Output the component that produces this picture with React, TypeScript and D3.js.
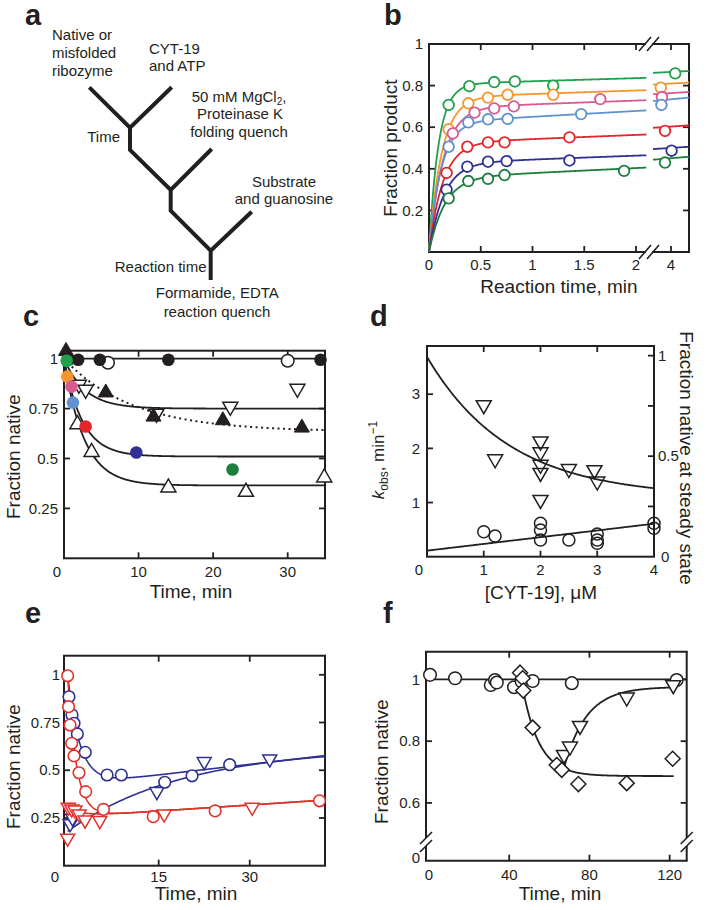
import React from "react";
import * as d3 from "d3";

const FONT = "Arial, 'Liberation Sans', Helvetica, sans-serif";
const INK = "#231f20";
const TICK = 6;
const FS_TICK = 15;
const FS_AX = 19;

// ---------------- Panel b ----------------
const bColors = ["#22a04b", "#f5962f", "#d75b8e", "#5e92d2", "#e4262c", "#2e3192", "#1c7d3f"];
const bTimes = [
  [0.19, 0.39, 0.63, 0.83, 1.2, 4.07],
  [0.19, 0.38, 0.57, 0.76, 1.2, 3.83],
  [0.23, 0.44, 0.63, 0.82, 1.655, 3.85],
  [0.19, 0.38, 0.57, 0.76, 1.47, 3.84],
  [0.17, 0.37, 0.57, 0.73, 1.357, 3.9],
  [0.17, 0.37, 0.57, 0.75, 1.357, 4.01],
  [0.19, 0.38, 0.57, 0.73, 1.885, 3.9],
];
const bValues = [
  [0.707, 0.797, 0.817, 0.82, 0.8, 0.859],
  [0.59, 0.715, 0.742, 0.756, 0.756, 0.79],
  [0.57, 0.67, 0.69, 0.7, 0.735, 0.745],
  [0.506, 0.623, 0.638, 0.64, 0.663, 0.707],
  [0.38, 0.506, 0.527, 0.527, 0.551, 0.582],
  [0.3, 0.41, 0.434, 0.437, 0.44, 0.487],
  [0.258, 0.341, 0.352, 0.37, 0.39, 0.43],
];
const bFitAmp = [0.806, 0.743, 0.692, 0.622, 0.523, 0.426, 0.356];
const bFitRate = [11, 8.2, 7.4, 8.6, 7.5, 7, 6.6];
const bFitSlope = [0.0149, 0.0167, 0.018, 0.028, 0.02, 0.0186, 0.0237];
const bYTicks = [0.2, 0.4, 0.6, 0.8, 1];
const bXTicks1 = [0.5, 1, 1.5, 2];
const bXTicks2 = [4];

// ---------------- Panel c ----------------
const cFilledCircT = [0.6, 1.9, 4.8, 14, 34.4];
const cFilledCircV = [0.995, 0.995, 0.995, 0.995, 0.995];
const cOpenCircT = [5.9, 30];
const cOpenCircV = [0.98, 0.99];
const cFilledUpT = [0.27, 5.6, 12, 21.3, 31.9];
const cFilledUpV = [1.038, 0.83, 0.709, 0.691, 0.654];
const cOpenDownT = [2.0, 2.9, 12.4, 22.3, 31.3];
const cOpenDownV = [0.87, 0.845, 0.725, 0.76, 0.85];
const cOpenUpT = [1.8, 3.7, 14, 24.4, 34.9];
const cOpenUpV = [0.671, 0.532, 0.354, 0.332, 0.404];
const cColorT = [0.36, 0.44, 1.0, 1.2, 2.9, 9.7, 22.6];
const cColorV = [0.99, 0.91, 0.86, 0.78, 0.66, 0.53, 0.445];
// fits: plateau + amp*exp(-k t)
const cFitPlateau = [0.635, 0.75, 0.51, 0.365];
const cFitAmp = [0.365, 0.25, 0.49, 0.635];
const cFitRate = [0.11, 0.35, 0.41, 0.37];
const cFitDotted = [true, false, false, false];
const cYTicks = [0.25, 0.5, 0.75, 1];
const cXTicks = [10, 20, 30];

// ---------------- Panel d ----------------
const dTriX = [1, 1.2, 2, 2, 2, 2, 2, 2.5, 2.95, 3];
const dTriK = [2.8, 1.8, 2.13, 1.93, 1.7, 1.55, 1.05, 1.62, 1.6, 1.39];
const dCircX = [1.0, 1.2, 2, 2, 2, 2.5, 3, 3, 3, 4, 4];
const dCircF = [0.124, 0.103, 0.166, 0.133, 0.083, 0.083, 0.113, 0.083, 0.067, 0.166, 0.141];
const dKFit = { base: 1.099, amp: 2.591, rate: 0.687 };
const dFracFit = { intercept: 0.03, slope: 0.0335 };
const dLeftTicks = [1, 2, 3];
const dRightTicks = [0.25, 0.5, 0.75, 1];
const dRightLabels = [0.5, 1];
const dXTicks = [1, 2, 3];
const dXLabels = [1, 2, 3, 4];

// ---------------- Panel e ----------------
const eBlueCircT = [0.22, 0.72, 1.05, 1.6, 2.9, 6.5, 8.84, 16.0, 20.5, 26.7];
const eBlueCircV = [0.885, 0.79, 0.746, 0.69, 0.594, 0.475, 0.475, 0.437, 0.471, 0.529];
const eBlueTriT = [0.4, 0.8, 14.7, 22.5, 33.3];
const eBlueTriV = [0.22, 0.25, 0.388, 0.545, 0.559];
const eRedCircT = [0, 0.15, 0.4, 0.67, 1.05, 1.87, 2.97, 5.9, 14.1, 24.3, 41.5];
const eRedCircV = [0.995, 0.833, 0.737, 0.641, 0.575, 0.487, 0.388, 0.295, 0.257, 0.287, 0.34];
const eRedTriT = [0, 0.1, 0.67, 1.2, 1.9, 2.86, 5.3, 15.9, 30.4];
const eRedTriV = [0.144, 0.306, 0.297, 0.292, 0.271, 0.239, 0.236, 0.271, 0.306];
// fits: base + slope*t + amp*exp(-k t)   order: blue circ, blue tri, red circ, red tri
const eFitBase = [0.42, 0.62, 0.255, 0.255];
const eFitSlope = [0.0037, 0, 0.0021, 0.0021];
const eFitAmp = [0.58, -0.44, 0.745, 0.045];
const eFitRate = [0.5, 0.052, 0.7, 0.4];
const eBlue = "#2e3192";
const eRed = "#e0322b";
const eYTicks = [0.25, 0.5, 0.75, 1];
const eXTicks = [15, 30];

// ---------------- Panel f ----------------
const fCircT = [0.5, 13, 30.8, 32.9, 33.8, 42.4, 46.2, 51.7, 71.2, 123.5];
const fCircV = [1.015, 1.004, 0.982, 0.998, 0.99, 0.975, 0.993, 0.995, 0.988, 0.998];
const fDiaT = [45.4, 46.7, 47.0, 51.7, 63.7, 66.2, 74.5, 98.6, 121.5];
const fDiaV = [1.022, 1.004, 0.964, 0.844, 0.723, 0.707, 0.661, 0.664, 0.743];
const fTriT = [67.3, 70.3, 75.3, 98.6, 121.8];
const fTriV = [0.756, 0.783, 0.85, 0.942, 0.982];
const fDiaFit = { t0: 46, t1: 122, plateau: 0.687, amp: 0.313, rate: 0.12 };
const fTriFit = { t0: 67, t1: 122, plateau: 0.976, amp: -0.27, rate: 0.09 };
const fYTicks = [0.6, 0.8, 1];
const fXTicks = [40, 80, 120];

// ---------- helpers ----------
function triPath(dir: "up" | "down", s: number) {
  const h = s * 0.866;
  if (dir === "down") return `M${-s / 2},${-h / 3}L${s / 2},${-h / 3}L0,${(2 * h) / 3}Z`;
  return `M${-s / 2},${h / 3}L${s / 2},${h / 3}L0,${(-2 * h) / 3}Z`;
}
function diaPath(r: number) {
  return `M0,${-r}L${r},0L0,${r}L${-r},0Z`;
}

type Sc = (v: number) => number;

function XTicks({ vals, sx, y0, y1, top = true }: { vals: number[]; sx: Sc; y0: number; y1: number; top?: boolean }) {
  return (
    <g stroke={INK} strokeWidth={1.8}>
      {vals.map((v, i) => (
        <g key={i}>
          <line x1={sx(v)} x2={sx(v)} y1={y1} y2={y1 - TICK} />
          {top && <line x1={sx(v)} x2={sx(v)} y1={y0} y2={y0 + TICK} />}
        </g>
      ))}
    </g>
  );
}
function YTicks({ vals, sy, x0, x1, left = true, right = true }: { vals: number[]; sy: Sc; x0: number; x1: number; left?: boolean; right?: boolean }) {
  return (
    <g stroke={INK} strokeWidth={1.8}>
      {vals.map((v, i) => (
        <g key={i}>
          {left && <line x1={x0} x2={x0 + TICK} y1={sy(v)} y2={sy(v)} />}
          {right && <line x1={x1} x2={x1 - TICK} y1={sy(v)} y2={sy(v)} />}
        </g>
      ))}
    </g>
  );
}
function Frame({ x0, x1, y0, y1 }: { x0: number; x1: number; y0: number; y1: number }) {
  return <rect x={x0} y={y0} width={x1 - x0} height={y1 - y0} fill="none" stroke={INK} strokeWidth={2} />;
}

function PanelA() {
  const tree =
    "M89.3,87.3 L130,127.7 L171.7,87.3 M130,127.7 L130,150 L170.7,190 L211.7,149 M170.7,190 L170.7,210.7 L210.7,250.7 L251.7,211.7 M210.7,250.7 L210.7,280";
  return (
    <g fontSize={15} fill={INK}>
      <path d={tree} fill="none" stroke={INK} strokeWidth={4} />
      <text x={52} y={40}>Native or</text>
      <text x={52} y={58}>misfolded</text>
      <text x={52} y={76}>ribozyme</text>
      <text x={149} y={53.5}>CYT-19</text>
      <text x={149} y={71}>and ATP</text>
      <text x={239} y={101.7} textAnchor="middle">
        50 mM MgCl<tspan fontSize={10} dy={3}>2</tspan>
        <tspan dy={-3}>,</tspan>
      </text>
      <text x={240} y={119.3} textAnchor="middle">Proteinase K</text>
      <text x={239} y={136.7} textAnchor="middle">folding quench</text>
      <text x={120} y={141.7} textAnchor="end">Time</text>
      <text x={284} y={186.5} textAnchor="middle">Substrate</text>
      <text x={284} y={204} textAnchor="middle">and guanosine</text>
      <text x={206.5} y={271.5} textAnchor="end">Reaction time</text>
      <text x={217.3} y={298.3} textAnchor="middle">Formamide, EDTA</text>
      <text x={217} y={316.5} textAnchor="middle">reaction quench</text>
    </g>
  );
}

function PanelB() {
  const x0 = 429, x1 = 689, y0 = 44, y1 = 252;
  const gapA = 646, gapB = 652;
  const xb1 = d3.scaleLinear().domain([0, 2]).range([429, 636]);
  const xb2 = d3.scaleLinear().domain([3.7, 4.3]).range([653, 689]);
  const yb = d3.scaleLinear().domain([0, 1]).range([y1, y0]);
  const seg1 = d3.range(0, 2.1001, 0.005);
  const seg2 = d3.range(3.7, 4.3001, 0.02);
  const xOf = (t: number) => (t >= 3 ? xb2(t) : xb1(t));
  const slash = (cx: number, cy: number) => (
    <line x1={cx - 6} y1={cy + 7} x2={cx + 6} y2={cy - 7} stroke={INK} strokeWidth={1.6} />
  );
  return (
    <g>
      <g fontSize={FS_TICK} fill={INK}>
        {bYTicks.map((v, i) => (
          <text key={i} x={x0 - 6} y={yb(v)} dy="0.35em" textAnchor="end">{String(v)}</text>
        ))}
        <text x={xb1(0)} y={270} textAnchor="middle">0</text>
        {bXTicks1.map((v, i) => (
          <text key={i} x={xb1(v)} y={270} textAnchor="middle">{String(v)}</text>
        ))}
        {bXTicks2.map((v, i) => (
          <text key={i} x={xb2(v)} y={270} textAnchor="middle">{String(v)}</text>
        ))}
      </g>
      <g stroke={INK} strokeWidth={2} fill="none">
        <line x1={x0} x2={x0} y1={y0 - 1} y2={y1 + 1} />
        <line x1={x1} x2={x1} y1={y0 - 1} y2={y1 + 1} />
        <line x1={x0} x2={gapA} y1={y0} y2={y0} />
        <line x1={gapB} x2={x1} y1={y0} y2={y0} />
        <line x1={x0} x2={gapA} y1={y1} y2={y1} />
        <line x1={gapB} x2={x1} y1={y1} y2={y1} />
      </g>
      {slash(gapA - 1, y0)}
      {slash(gapB + 1, y0)}
      {slash(gapA - 1, y1)}
      {slash(gapB + 1, y1)}
      <YTicks vals={bYTicks.slice(0, 4)} sy={yb} x0={x0} x1={x1} />
      <XTicks vals={bXTicks1} sx={xb1} y0={y0} y1={y1} />
      <XTicks vals={bXTicks2} sx={xb2} y0={y0} y1={y1} />
      {bColors.map((c, i) => {
        const f = (t: number) => bFitAmp[i] * (1 - Math.exp(-bFitRate[i] * t)) + bFitSlope[i] * t;
        const l1 = d3.line<number>().x((t) => xb1(t)).y((t) => yb(f(t)));
        const l2 = d3.line<number>().x((t) => xb2(t)).y((t) => yb(f(t)));
        return (
          <g key={i} stroke={c} strokeWidth={1.8} fill="none">
            <path d={l1(seg1) || ""} />
            <path d={l2(seg2) || ""} />
          </g>
        );
      })}
      {bColors.map((c, i) => (
        <g key={i}>
          {bTimes[i].map((t, j) => (
            <circle key={j} cx={xOf(t)} cy={yb(bValues[i][j])} r={5.3} fill="#fff" stroke={c} strokeWidth={1.8} />
          ))}
        </g>
      ))}
      <text x={559} y={293} fontSize={FS_AX} textAnchor="middle" fill={INK}>Reaction time, min</text>
      <text transform="translate(397,148) rotate(-90)" fontSize={FS_AX} textAnchor="middle" fill={INK}>Fraction product</text>
    </g>
  );
}

function PanelC() {
  const x0 = 64, x1 = 325, y0 = 350.7, y1 = 558.3;
  const xc = d3.scaleLinear().domain([0, 35]).range([x0, x1]);
  const yc = d3.scaleLinear().domain([0, 1.04]).range([y1, y0]);
  const ts = d3.range(0, 35.001, 0.1);
  const flat = d3.line<number>().x((t) => xc(t)).y(() => yc(1));
  return (
    <g>
      <g fontSize={FS_TICK} fill={INK}>
        {cYTicks.map((v, i) => (
          <text key={i} x={58} y={yc(v)} dy="0.35em" textAnchor="end">{String(v)}</text>
        ))}
        <text x={57} y={577} textAnchor="middle">0</text>
        {cXTicks.map((v, i) => (
          <text key={i} x={xc(v)} y={577} textAnchor="middle">{String(v)}</text>
        ))}
      </g>
      <Frame x0={x0} x1={x1} y0={y0} y1={y1} />
      <YTicks vals={cYTicks} sy={yc} x0={x0} x1={x1} />
      <XTicks vals={cXTicks} sx={xc} y0={y0} y1={y1} />
      <path d={flat(ts) || ""} stroke={INK} strokeWidth={1.8} fill="none" />
      {cFitPlateau.map((p, i) => {
        const l = d3
          .line<number>()
          .x((t) => xc(t))
          .y((t) => yc(p + cFitAmp[i] * Math.exp(-cFitRate[i] * t)));
        return (
          <path key={i} d={l(ts) || ""} stroke={INK} strokeWidth={cFitDotted[i] ? 2 : 1.8} fill="none"
            strokeDasharray={cFitDotted[i] ? "2,3.5" : undefined} />
        );
      })}
      {cOpenUpT.map((t, i) => (
        <path key={i} d={triPath("up", 15)} transform={`translate(${xc(t)},${yc(cOpenUpV[i])})`} fill="#fff" stroke={INK} strokeWidth={1.5} />
      ))}
      {cOpenDownT.map((t, i) => (
        <path key={i} d={triPath("down", 15)} transform={`translate(${xc(t)},${yc(cOpenDownV[i])})`} fill="#fff" stroke={INK} strokeWidth={1.5} />
      ))}
      {cFilledUpT.map((t, i) => (
        <path key={i} d={triPath("up", 15)} transform={`translate(${xc(t)},${yc(cFilledUpV[i])})`} fill={INK} stroke={INK} strokeWidth={1} />
      ))}
      {cOpenCircT.map((t, i) => (
        <circle key={i} cx={xc(t)} cy={yc(cOpenCircV[i])} r={6.3} fill="#fff" stroke={INK} strokeWidth={1.5} />
      ))}
      {cFilledCircT.map((t, i) => (
        <circle key={i} cx={xc(t)} cy={yc(cFilledCircV[i])} r={6.3} fill={INK} />
      ))}
      {cColorT.map((t, i) => (
        <circle key={i} cx={xc(t)} cy={yc(cColorV[i])} r={6.3} fill={bColors[i]} />
      ))}
      <text x={191} y={598} fontSize={FS_AX} textAnchor="middle" fill={INK}>Time, min</text>
      <text transform="translate(19.5,456.7) rotate(-90)" fontSize={FS_AX} textAnchor="middle" fill={INK}>Fraction native</text>
    </g>
  );
}

function PanelD() {
  const x0 = 427, x1 = 654, y0 = 346, y1 = 556.7;
  const xd = d3.scaleLinear().domain([0, 4]).range([x0, x1]);
  const yL = d3.scaleLinear().domain([0, 3.89]).range([y1, y0]);
  const yR = d3.scaleLinear().domain([0, 1.048]).range([y1, y0]);
  const xs = d3.range(0, 4.0001, 0.02);
  const kLine = d3.line<number>().x((x) => xd(x)).y((x) => yL(dKFit.base + dKFit.amp * Math.exp(-dKFit.rate * x)));
  const fLine = d3.line<number>().x((x) => xd(x)).y((x) => yR(dFracFit.intercept + dFracFit.slope * x));
  return (
    <g>
      <g fontSize={FS_TICK} fill={INK}>
        {dLeftTicks.map((v, i) => (
          <text key={i} x={420} y={yL(v)} dy="0.35em" textAnchor="end">{String(v)}</text>
        ))}
        {dRightLabels.map((v, i) => (
          <text key={i} x={658} y={yR(v)} dy="0.35em" textAnchor="start">{String(v)}</text>
        ))}
        <text x={661} y={yR(0)} dy="0.35em" textAnchor="start">0</text>
        <text x={419} y={575} textAnchor="middle">0</text>
        {dXLabels.map((v, i) => (
          <text key={i} x={xd(v)} y={575} textAnchor="middle">{String(v)}</text>
        ))}
      </g>
      <Frame x0={x0} x1={x1} y0={y0} y1={y1} />
      <YTicks vals={dLeftTicks} sy={yL} x0={x0} x1={x1} right={false} />
      <YTicks vals={dRightTicks} sy={yR} x0={x0} x1={x1} left={false} />
      <XTicks vals={dXTicks} sx={xd} y0={y0} y1={y1} />
      <path d={kLine(xs) || ""} stroke={INK} strokeWidth={1.8} fill="none" />
      <path d={fLine(xs) || ""} stroke={INK} strokeWidth={1.8} fill="none" />
      {dTriX.map((x, i) => (
        <path key={i} d={triPath("down", 15)} transform={`translate(${xd(x)},${yL(dTriK[i])})`} fill="none" stroke={INK} strokeWidth={1.5} />
      ))}
      {dCircX.map((x, i) => (
        <circle key={i} cx={xd(x)} cy={yR(dCircF[i])} r={6} fill="none" stroke={INK} strokeWidth={1.5} />
      ))}
      <text x={541} y={599} fontSize={FS_AX} textAnchor="middle" fill={INK}>[CYT-19], μM</text>
      <text transform="translate(384,460) rotate(-90)" fontSize={17} textAnchor="middle" fill={INK}>
        <tspan fontStyle="italic">k</tspan>
        <tspan fontSize={12} dy={4}>obs</tspan>
        <tspan dy={-4}>, min</tspan>
        <tspan fontSize={12} dy={-7}>−1</tspan>
      </text>
      <text transform="translate(680,458) rotate(90)" fontSize={FS_AX} textAnchor="middle" fill={INK}>Fraction native at steady state</text>
    </g>
  );
}

function PanelE() {
  const x0 = 64, x1 = 325, y0 = 655.7, y1 = 865.7;
  const xe = d3.scaleLinear().domain([-0.6, 42.4]).range([x0, x1]);
  const ye = d3.scaleLinear().domain([0, 1.1]).range([y1, y0]);
  const ts = d3.range(0, 42.401, 0.1);
  const colors = [eBlue, eBlue, eRed, eRed];
  return (
    <g>
      <g fontSize={FS_TICK} fill={INK}>
        {eYTicks.map((v, i) => (
          <text key={i} x={60} y={ye(v)} dy="0.35em" textAnchor="end">{String(v)}</text>
        ))}
        <text x={55} y={882} textAnchor="middle">0</text>
        {eXTicks.map((v, i) => (
          <text key={i} x={xe(v)} y={882} textAnchor="middle">{String(v)}</text>
        ))}
      </g>
      <Frame x0={x0} x1={x1} y0={y0} y1={y1} />
      <YTicks vals={eYTicks} sy={ye} x0={x0} x1={x1} />
      <XTicks vals={eXTicks} sx={xe} y0={y0} y1={y1} />
      {eFitBase.map((b, i) => {
        const l = d3
          .line<number>()
          .x((t) => xe(t))
          .y((t) => ye(b + eFitSlope[i] * t + eFitAmp[i] * Math.exp(-eFitRate[i] * t)));
        return <path key={i} d={l(ts) || ""} stroke={colors[i]} strokeWidth={1.6} fill="none" />;
      })}
      {eBlueTriT.map((t, i) => (
        <path key={i} d={triPath("down", 14)} transform={`translate(${xe(t)},${ye(eBlueTriV[i])})`} fill="#fff" stroke={eBlue} strokeWidth={1.5} />
      ))}
      {eBlueCircT.map((t, i) => (
        <circle key={i} cx={xe(t)} cy={ye(eBlueCircV[i])} r={5.8} fill="#fff" stroke={eBlue} strokeWidth={1.6} />
      ))}
      {eRedTriT.map((t, i) => (
        <path key={i} d={triPath("down", 14)} transform={`translate(${xe(t)},${ye(eRedTriV[i])})`} fill="#fff" stroke={eRed} strokeWidth={1.5} />
      ))}
      {eRedCircT.map((t, i) => (
        <circle key={i} cx={xe(t)} cy={ye(eRedCircV[i])} r={5.8} fill="#fff" stroke={eRed} strokeWidth={1.6} />
      ))}
      <text x={196} y={900} fontSize={FS_AX} textAnchor="middle" fill={INK}>Time, min</text>
      <text transform="translate(19.5,766.7) rotate(-90)" fontSize={FS_AX} textAnchor="middle" fill={INK}>Fraction native</text>
    </g>
  );
}

function PanelF() {
  const x0 = 426, x1 = 686.7, y0 = 651.7, y1 = 860.7;
  const brk = 843;
  const xf = d3.scaleLinear().domain([-1.5, 128.5]).range([x0, x1]);
  const yf = d3.scaleLinear().domain([0.47, 1.09]).range([brk, y0]);
  const flatT = d3.range(-1.5, 128.501, 1);
  const flat = d3.line<number>().x((t) => xf(t)).y(() => yf(1));
  const sig = (fit: { t0: number; t1: number; plateau: number; amp: number; rate: number }) => {
    const ts = d3.range(fit.t0, fit.t1 + 0.001, 0.2);
    return (
      d3
        .line<number>()
        .x((t) => xf(t))
        .y((t) => yf(fit.plateau + fit.amp * Math.exp(-fit.rate * (t - fit.t0))))(ts) || ""
    );
  };
  const gA = brk - 5, gB = brk + 3;
  const slash = (cx: number, cy: number) => (
    <line x1={cx - 6} y1={cy + 6} x2={cx + 6} y2={cy - 6} stroke={INK} strokeWidth={1.6} />
  );
  return (
    <g>
      <g fontSize={FS_TICK} fill={INK}>
        {fYTicks.map((v, i) => (
          <text key={i} x={420} y={yf(v)} dy="0.35em" textAnchor="end">{String(v)}</text>
        ))}
        <text x={420} y={858} dy="0.35em" textAnchor="end">0</text>
        <text x={xf(0)} y={880} textAnchor="middle">0</text>
        {fXTicks.map((v, i) => (
          <text key={i} x={xf(v)} y={880} textAnchor="middle">{String(v)}</text>
        ))}
      </g>
      <g stroke={INK} strokeWidth={2} fill="none">
        <line x1={x0 - 1} x2={x1 + 1} y1={y0} y2={y0} />
        <line x1={x0 - 1} x2={x1 + 1} y1={y1} y2={y1} />
        <line x1={x0} x2={x0} y1={y0} y2={gA} />
        <line x1={x0} x2={x0} y1={gB} y2={y1} />
        <line x1={x1} x2={x1} y1={y0} y2={gA} />
        <line x1={x1} x2={x1} y1={gB} y2={y1} />
      </g>
      {slash(x0, gA)}
      {slash(x0, gB)}
      {slash(x1, gA)}
      {slash(x1, gB)}
      <YTicks vals={fYTicks} sy={yf} x0={x0} x1={x1} />
      <XTicks vals={fXTicks} sx={xf} y0={y0} y1={y1} />
      <path d={flat(flatT) || ""} stroke={INK} strokeWidth={1.8} fill="none" />
      <path d={sig(fDiaFit)} stroke={INK} strokeWidth={1.8} fill="none" />
      <path d={sig(fTriFit)} stroke={INK} strokeWidth={1.8} fill="none" />
      {fCircT.map((t, i) => (
        <circle key={i} cx={xf(t)} cy={yf(fCircV[i])} r={6.3} fill="#fff" stroke={INK} strokeWidth={1.5} />
      ))}
      {fDiaT.map((t, i) => (
        <path key={i} d={diaPath(7.5)} transform={`translate(${xf(t)},${yf(fDiaV[i])})`} fill="#fff" stroke={INK} strokeWidth={1.5} />
      ))}
      {fTriT.map((t, i) => (
        <path key={i} d={triPath("down", 15)} transform={`translate(${xf(t)},${yf(fTriV[i])})`} fill="#fff" stroke={INK} strokeWidth={1.5} />
      ))}
      <text x={560} y={900} fontSize={FS_AX} textAnchor="middle" fill={INK}>Time, min</text>
      <text transform="translate(388,761.7) rotate(-90)" fontSize={FS_AX} textAnchor="middle" fill={INK}>Fraction native</text>
    </g>
  );
}

export default function App() {
  return (
    <svg width={707} height={910} style={{ position: "absolute", left: 0, top: 0 }} fontFamily={FONT}>
      <rect width={707} height={910} fill="#fff" />
      <g fontSize={29} fontWeight="bold" fill={INK}>
        <text x={25} y={25}>a</text>
        <text x={384} y={25}>b</text>
        <text x={23} y={326}>c</text>
        <text x={370} y={326}>d</text>
        <text x={25} y={623}>e</text>
        <text x={383} y={623}>f</text>
      </g>
      <PanelA />
      <PanelB />
      <PanelC />
      <PanelD />
      <PanelE />
      <PanelF />
    </svg>
  );
}
